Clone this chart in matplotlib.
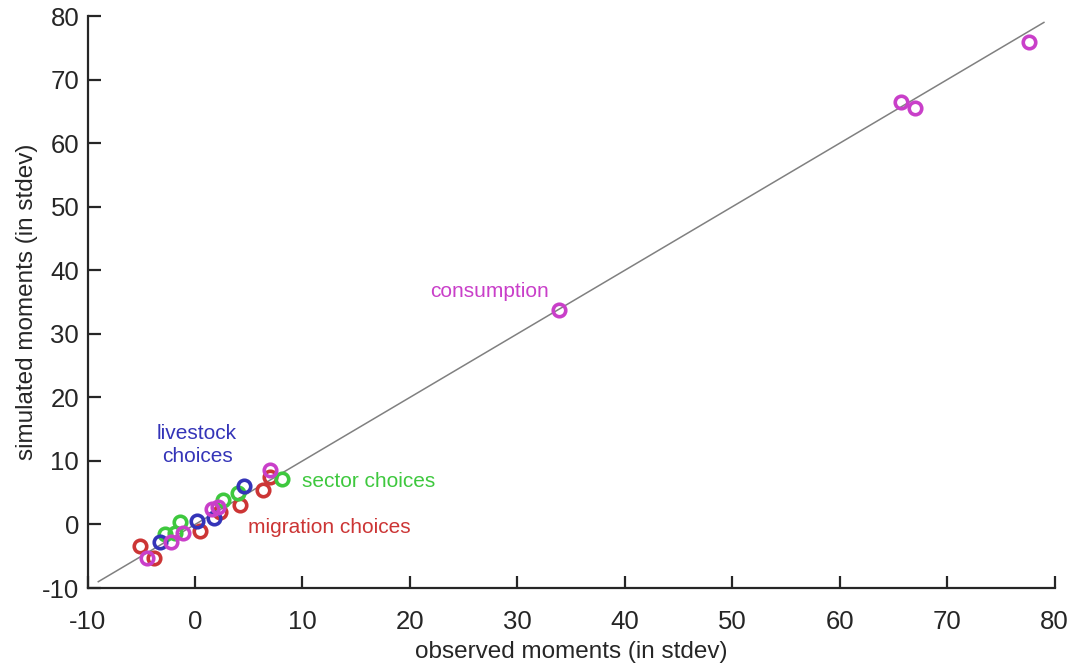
import matplotlib
matplotlib.use("Agg")
import matplotlib.pyplot as plt

### data (observed vs simulated, in stdev)
cons_obs = [77.6, 65.7, 67.0, 33.9, 7.0, 1.6, 2.1, -1.1, -2.2, -4.5]
cons_sim = [75.9, 66.4, 65.5, 33.7, 8.6, 2.4, 2.7, -1.4, -2.8, -5.2]

live_obs = [-3.3, 0.2, 1.8, 4.6]
live_sim = [-2.7, 0.6, 1.0, 6.0]

sect_obs = [-2.8, -1.9, -1.4, 2.6, 4.0, 8.1]
sect_sim = [-1.5, -1.4, 0.4, 3.8, 4.9, 7.1]

migr_obs = [-5.1, -3.8, 0.5, 2.3, 4.2, 6.3, 7.0]
migr_sim = [-3.4, -5.2, -1.1, 2.0, 3.1, 5.4, 7.5]

diag = [-9, 79]

c_cons = '#c93fc9'
c_live = '#3434b8'
c_sect = '#3ec83e'
c_migr = '#cc3535'

plt.rcParams['font.family'] = ['Liberation Sans', 'DejaVu Sans']
plt.rcParams['axes.unicode_minus'] = False

fig = plt.figure(figsize=(10.74, 6.69), dpi=100)
ax = fig.add_axes([0.0815, 0.121, 0.9005, 0.855])

### 45 degree line
ax.plot(diag, diag, color='#808080', lw=1.1, zorder=1)

mk = dict(marker='o', linestyle='none', markersize=9, markerfacecolor='none',
          markeredgewidth=2.6, zorder=3)
ax.plot(migr_obs, migr_sim, color=c_migr, **mk)
ax.plot(sect_obs, sect_sim, color=c_sect, **mk)
ax.plot(live_obs, live_sim, color=c_live, **mk)
ax.plot(cons_obs, cons_sim, color=c_cons, **mk)

### group labels
ax.text(27.4, 36.6, 'consumption', color=c_cons, fontsize=15, ha='center', va='center')
ax.text(0.2, 12.5, 'livestock\nchoices', color=c_live, fontsize=15, ha='center',
        va='center', linespacing=1.25)
ax.text(9.95, 6.7, 'sector choices', color=c_sect, fontsize=15, ha='left', va='center')
ax.text(4.9, -0.4, 'migration choices', color=c_migr, fontsize=15, ha='left', va='center')

ax.set_xlim(-10, 80)
ax.set_ylim(-10, 80)
ax.set_xticks(range(-10, 81, 10))
ax.set_yticks(range(-10, 81, 10))
ax.set_xlabel('observed moments (in stdev)', fontsize=17.5, color='#262626', labelpad=5)
ax.set_ylabel('simulated moments (in stdev)', fontsize=17.5, color='#262626', labelpad=3)

for s in ['top', 'right']:
    ax.spines[s].set_visible(False)
for s in ['left', 'bottom']:
    ax.spines[s].set_linewidth(1.6)
    ax.spines[s].set_color('#262626')
ax.tick_params(direction='in', length=9, width=1.6, labelsize=18.5,
               colors='#262626')
ax.tick_params(axis='x', pad=16)
ax.tick_params(axis='y', pad=6)

fig.savefig('out.png', dpi=100)
